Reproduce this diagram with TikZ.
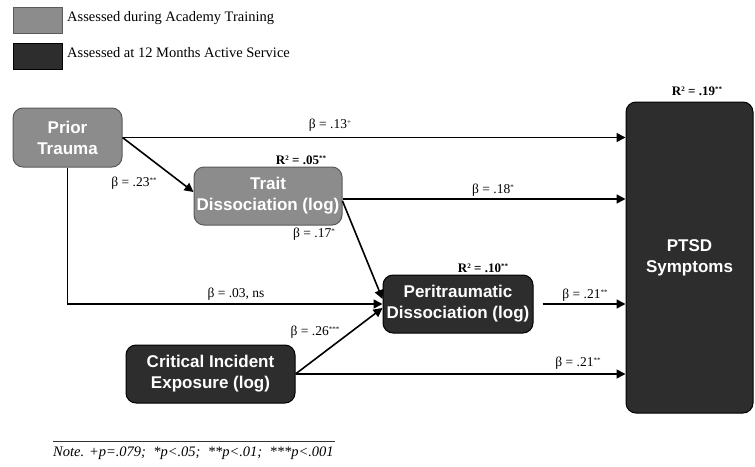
\documentclass[tikz,border=0pt]{standalone}
\usepackage{fontspec}
\setmainfont{Liberation Serif}
\newfontfamily\nodefont{Liberation Sans}
\usetikzlibrary{arrows.meta}
\definecolor{lightbox}{HTML}{8C8C8C}
\definecolor{darkbox}{HTML}{2D2D2D}
\definecolor{lightedge}{HTML}{5A5A5A}
\newcommand{\sgn}[1]{\raisebox{0.55ex}{\fontsize{7}{7}\selectfont #1}}
\begin{document}
\begin{tikzpicture}[x=1pt,y=-1pt,
 box/.style={rounded corners=10pt, inner sep=0pt, align=center, text=white,
   font=\nodefont\bfseries\fontsize{17}{21}\selectfont, line width=1pt},
 gbox/.style={box, fill=lightbox, draw=lightedge},
 dbox/.style={box, fill=darkbox, draw=black},
 conn/.style={line width=1.6pt, -{Triangle[length=9pt,width=9pt]}},
 lab/.style={font=\fontsize{13.5}{15}\selectfont, inner sep=0pt},
 rlab/.style={font=\bfseries\fontsize{13}{15}\selectfont, inner sep=0pt},
 legbox/.style={minimum width=49pt, minimum height=26pt, inner sep=0pt, line width=1pt},
 legtext/.style={font=\fontsize{14.5}{16}\selectfont, anchor=west, inner sep=0pt},
]
\useasboundingbox (0,0) rectangle (755,466);
% legend
\node[legbox, fill=lightbox, draw=lightedge] (lg1) at (37.5,20) {};
\node[legbox, fill=darkbox, draw=black] (lg2) at (37.5,56.5) {};
\node[legtext] (lt1) at (67,18) {Assessed during Academy Training};
\node[legtext] (lt2) at (67,53) {Assessed at 12 Months Active Service};
% nodes
\node[gbox, minimum width=109pt, minimum height=59pt] (a) at (67.5,137.5) {Prior\\Trauma};
\node[gbox, minimum width=148pt, minimum height=58pt] (t) at (268,196) {Trait\\Dissociation (log)};
\node[dbox, minimum width=150pt, minimum height=58pt] (p) at (458,304) {Peritraumatic\\Dissociation (log)};
\node[dbox, minimum width=169pt, minimum height=58pt] (c) at (210.5,374) {Critical Incident\\Exposure (log)};
\node[dbox, minimum width=127pt, minimum height=311pt] (s) at (689.5,257.5) {PTSD\\Symptoms};
% connectors
\draw[conn] (a.east) -- (a.east -| s.west);
\draw[conn] (a.east) -- ([yshift=4pt]t.west);
\draw[conn] ([yshift=-3pt]t.east) -- ([yshift=-3pt]t.east -| s.west);
\draw[conn] ([yshift=-5pt]t.east) -- ([yshift=5pt]p.west);
\draw[conn] (a.south) |- (p.west);
\draw[conn] (c.east) -- ([yshift=-4pt]p.west);
\draw[conn] (c.east) -- (c.east -| s.west);
\coordinate (pout) at ([xshift=9pt]p.east);
\draw[conn] (pout) -- (pout -| s.west);
% labels
\node[lab] (l13) at (330,125) {β = .13\sgn{+}};
\node[lab] (l23) at (134,183) {β = .23\sgn{**}};
\node[rlab] (r05) at (301,160) {R\sgn{2} = .05\sgn{**}};
\node[lab] (l18) at (493,190) {β = .18\sgn{*}};
\node[lab] (l17) at (314,234) {β = .17\sgn{*}};
\node[lab] (l03) at (236,294) {β = .03, ns};
\node[lab] (l26) at (315,332) {β = .26\sgn{***}};
\node[rlab] (r10) at (483,268) {R\sgn{2} = .10\sgn{**}};
\node[lab] (l21a) at (585,295) {β = .21\sgn{**}};
\node[lab] (l21b) at (578,363) {β = .21\sgn{**}};
\node[rlab] (r19) at (697,91) {R\sgn{2} = .19\sgn{**}};
% note
\draw[line width=1pt, draw=black!80] (53,441) -- (335,441);
\node[font=\itshape\fontsize{14.5}{16}\selectfont, anchor=west, inner sep=0pt] (note) at (53,453)
  {Note. +p=.079;\ \ *p<.05;\ \ **p<.01;\ \ ***p<.001};
\end{tikzpicture}
\end{document}
